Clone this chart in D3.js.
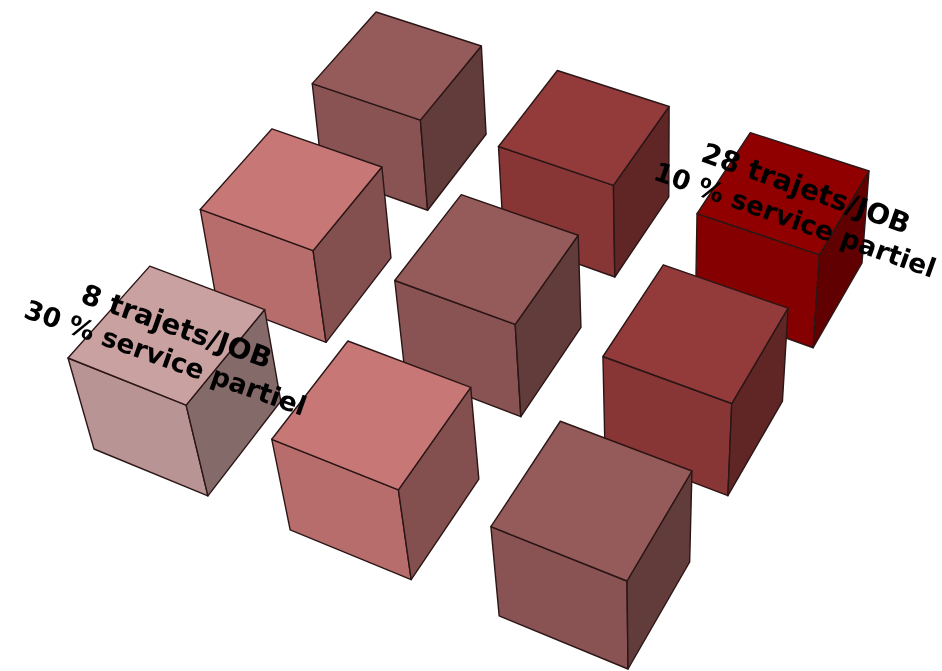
<!DOCTYPE html>
<html>
<head>
<meta charset="utf-8">
<style>
html,body{margin:0;padding:0;background:#fff;overflow:hidden;}
svg{display:block;}
</style>
<script src="https://cdn.jsdelivr.net/npm/d3@7"></script>
</head>
<body>
<div id="chart"></div>
<script>
// grid of cubes
var service = [30, 20, 10];   // % service partiel, runs up-right on screen
var trajets = [8, 18, 28];    // trajets/JOB, runs down-right on screen
var levels = [
  0, 1, 2,
  1, 2, 3,
  2, 3, 4
];
var levelColors = ["#c9a1a1", "#c87777", "#955a5a", "#933a3a", "#910000"];
var labelTrajets = [8, 28];
var labelService = [30, 10];
var labelLines = [
  ["8 trajets/JOB", "30 % service partiel"],
  ["28 trajets/JOB", "10 % service partiel"]
];

var width = 942, height = 671;

// corners of the ground grid on screen, top and bottom plane of the cubes
var topQuad = [[68,358],[627,581],[869,171],[376,12]];
var botQuad = [[94,449],[628,669],[862,263],[383,99]];

function homography(q){
  var dx1 = q[1][0]-q[2][0], dx2 = q[3][0]-q[2][0], sx = q[0][0]-q[1][0]+q[2][0]-q[3][0];
  var dy1 = q[1][1]-q[2][1], dy2 = q[3][1]-q[2][1], sy = q[0][1]-q[1][1]+q[2][1]-q[3][1];
  var det = dx1*dy2-dx2*dy1;
  var g = (sx*dy2-dx2*sy)/det, h = (dx1*sy-sx*dy1)/det;
  var a = q[1][0]-q[0][0]+g*q[1][0], b = q[3][0]-q[0][0]+h*q[3][0];
  var d = q[1][1]-q[0][1]+g*q[1][1], e = q[3][1]-q[0][1]+h*q[3][1];
  return function(u,v){
    var w = g*u+h*v+1;
    return [(a*u+b*v+q[0][0])/w, (d*u+e*v+q[0][1])/w];
  };
}
var projTop = homography(topQuad), projBot = homography(botQuad);

var sideU = 0.227, sideV = 0.235;  // cube side in grid units
var uScale = d3.scaleLinear().domain(trajets).range([0,0.386,0.773]);
var vScale = d3.scaleLinear().domain(service).range([0,0.39,0.765]);
var color = d3.scaleOrdinal().domain([0,1,2,3,4]).range(levelColors);

function shade(c,k){
  var r = d3.rgb(c);
  return d3.rgb(r.r*k, r.g*k, r.b*k).formatHex();
}

var cubes = [];
trajets.forEach(function(t,i){
  service.forEach(function(s,j){
    cubes.push({t:t, s:s, level:levels[i*3+j], row:i, col:j});
  });
});
// painter's order, back cubes first
cubes.sort(function(a,b){ return (a.row-a.col)-(b.row-b.col); });

var svg = d3.select("#chart").append("svg")
  .attr("width",width)
  .attr("height",height);

svg.append("defs").append("filter").attr("id","soft")
  .attr("x",0).attr("y",0).attr("width",width).attr("height",height)
  .attr("filterUnits","userSpaceOnUse")
  .append("feGaussianBlur").attr("stdDeviation",0.45);

var g = svg.append("g").attr("filter","url(#soft)");
var line = d3.line();

var cube = g.selectAll("g.cube").data(cubes).enter().append("g").attr("class","cube");

function face(d,which){
  var u0 = uScale(d.t), v0 = vScale(d.s);
  var u1 = u0+sideU, v1 = v0+sideV;
  if(which=="top") return line([projTop(u0,v0),projTop(u1,v0),projTop(u1,v1),projTop(u0,v1)])+"Z";
  if(which=="left") return line([projTop(u0,v0),projTop(u1,v0),projBot(u1,v0),projBot(u0,v0)])+"Z";
  return line([projTop(u1,v0),projTop(u1,v1),projBot(u1,v1),projBot(u1,v0)])+"Z";
}

[["left",0.92],["right",0.66],["top",1]].forEach(function(f){
  cube.append("path")
    .attr("d",function(d){ return face(d,f[0]); })
    .attr("fill",function(d){ return shade(color(d.level),f[1]); })
    .attr("stroke","#2b1616")
    .attr("stroke-width",1.4)
    .attr("stroke-linejoin","round");
});

// the two labelled corners
var labelDx = [4, 17], labelDy = [7.5, 11];
var lab = g.selectAll("g.label").data(labelLines).enter().append("g")
  .attr("class","label")
  .attr("transform",function(d,i){
    var p = projTop(uScale(labelTrajets[i])+sideU/2, vScale(labelService[i])+sideV/2);
    return "translate("+(p[0]+labelDx[i])+","+(p[1]+labelDy[i])+") rotate(19.5)";
  });

lab.selectAll("text").data(function(d){ return d; }).enter().append("text")
  .text(function(d){ return d; })
  .attr("x",0)
  .attr("y",function(d,i){ return i*33-6; })
  .attr("text-anchor","middle")
  .attr("font-family","'DejaVu Sans'")
  .attr("font-weight","bold")
  .attr("font-size",function(d,i){ return i==0 ? 28 : 26.5; })
  .attr("fill","#000");
</script>
</body>
</html>
